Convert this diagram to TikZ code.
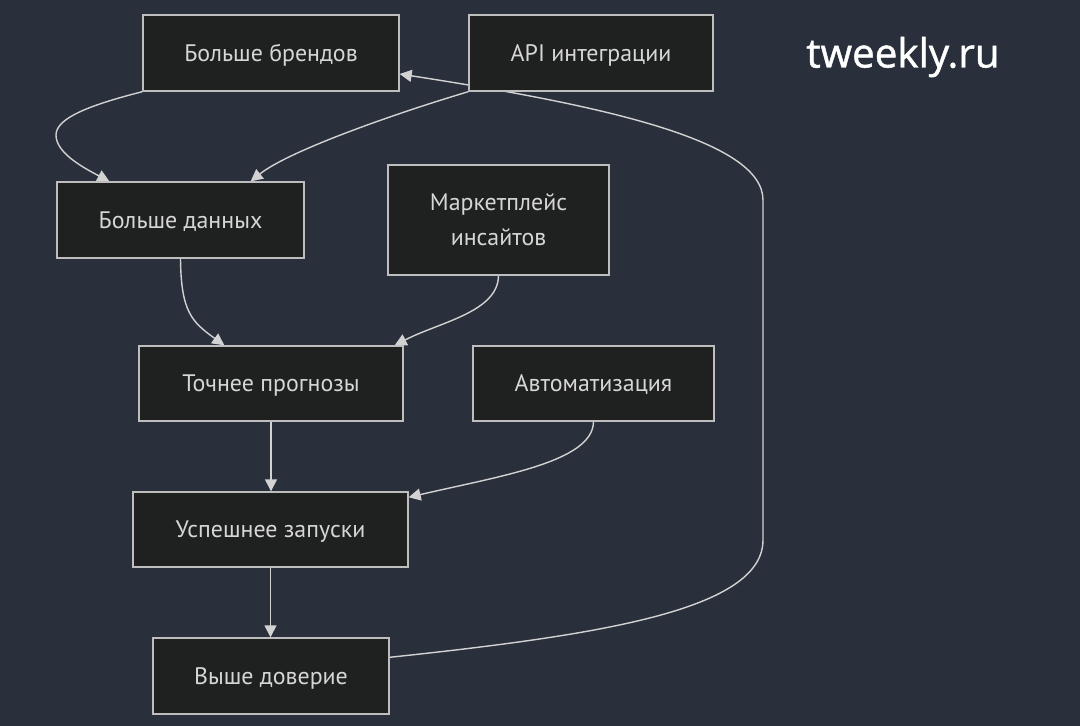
\documentclass[tikz,border=0pt]{standalone}
\usepackage{fontspec}
\setmainfont{PT Sans}
\newfontfamily\logofont[FakeBold=1.2]{Open Sans}
\usetikzlibrary{arrows.meta,calc}
\definecolor{bgcol}{RGB}{42,47,60}
\definecolor{boxfill}{RGB}{31,32,32}
\definecolor{boxline}{RGB}{190,190,190}
\definecolor{txtcol}{RGB}{214,214,214}
\definecolor{edgecol}{RGB}{210,210,210}
\pgfdeclarelayer{bg}
\pgfdeclarelayer{edges}
\pgfsetlayers{bg,edges,main}
\begin{document}
\begin{tikzpicture}[x=0.02cm,y=-0.02cm,
  stepbox/.style={draw=boxline,line width=0.8pt,fill=boxfill,text=txtcol,
    font=\fontsize{13.6}{20}\selectfont,align=center,text depth=0pt,
    minimum height=1.52cm,inner sep=0pt},
  link/.style={draw=edgecol,line width=0.8pt,-{Triangle[length=2.4mm,width=2.4mm]}}]
\begin{pgfonlayer}{bg}
\fill[bgcol] (0,0) rectangle (1080,726);
\end{pgfonlayer}
\useasboundingbox (0,0) rectangle (1080,726);
% nodes
\node (brands) [stepbox,minimum width=5.12cm] at (271,53) {Больше брендов};
\node (api) [stepbox,minimum width=4.88cm] at (591,53) {API интеграции};
\node (data) [stepbox,minimum width=4.94cm] at (180.5,220) {Больше данных};
\node (market) [stepbox,minimum width=4.42cm,minimum height=2.2cm] at (498.5,220) {Маркетплейс\\инсайтов};
\node (forecast) [stepbox,minimum width=5.28cm,minimum height=1.5cm] at (271,383.5) {Точнее прогнозы};
\node (auto) [stepbox,minimum width=4.82cm,minimum height=1.5cm] at (593.5,383.5) {Автоматизация};
\node (launch) [stepbox,minimum width=5.5cm,minimum height=1.5cm] at (270.5,529.5) {Успешнее запуски};
\node (trust) [stepbox,minimum width=4.72cm] at (271,676) {Выше доверие};
\node (logo) [text=white,font=\logofont\fontsize{23}{26}\selectfont] at (903,57) {tweekly.ru};
% edges
\begin{pgfonlayer}{edges}
\draw [link] (brands.south west) .. controls (90,105) and (56,118) .. (56,135)
  .. controls (56,152) and (80,166) .. ($(data.north west)+(53,0)$);
\draw [link] (api.south west) .. controls (400,112) and (290,150) .. ($(data.north east)+(-54,0)$);
\draw [link] (data.south) .. controls (181,312) and (192,322) .. ($(forecast.north west)+(86,0)$);
\draw [link] (market.south) .. controls (498,312) and (440,322) .. ($(forecast.north east)+(-9,0)$);
\draw [link] (forecast.south) -- (forecast.south |- launch.north);
\draw [link] (auto.south) .. controls (593,462) and (500,476) .. ($(launch.north east)+(0,6)$);
\draw [link] (launch.south) -- (launch.south |- trust.north);
\draw [link] ($(trust.north east)+(0,20)$) .. controls (600,635) and (763,610) .. (763,540)
  -- (763,200) .. controls (763,140) and (600,105) .. ($(brands.east)+(0,21)$);
\end{pgfonlayer}
\end{tikzpicture}
\end{document}
